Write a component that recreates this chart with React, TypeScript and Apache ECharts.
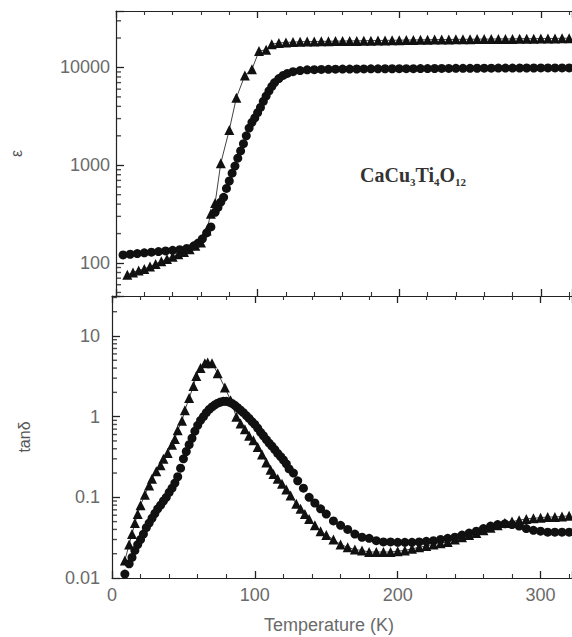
import React, { useEffect, useRef } from "react";
import * as echarts from "echarts";

// Temperature (K) vs dielectric constant, circles
const epsCircles: [number, number][] = [
  [5, 121], [10, 123], [15, 125], [20, 127], [25, 129], [30, 131], [35, 133], [40, 135], [45, 137], [50, 141],
  [55, 150], [58, 160], [61, 177], [64, 203], [67, 234],
  [70, 330], [72, 370], [74, 420], [76, 470], [78, 580], [80, 690], [82, 830], [84, 980], [86, 1180], [88, 1400],
  [90, 1660], [92, 2000], [94, 2400], [96, 2750], [98, 3050], [100, 3450], [102, 3900], [104, 4500], [106, 5100],
  [108, 5750], [110, 6400], [112, 7000], [115, 7700], [118, 8300], [121, 8700], [125, 9050], [130, 9300],
  [135, 9450], [140, 9500], [145, 9550], [150, 9580], [155, 9600], [160, 9620], [165, 9640], [170, 9650],
  [175, 9660], [180, 9680], [185, 9690], [190, 9700], [195, 9700], [200, 9710], [205, 9720], [210, 9730],
  [215, 9740], [220, 9750], [225, 9760], [230, 9770], [235, 9780], [240, 9790], [245, 9800], [250, 9810],
  [255, 9820], [260, 9830], [265, 9840], [270, 9850], [275, 9860], [280, 9860], [285, 9870], [290, 9880],
  [295, 9880], [300, 9890], [305, 9890], [310, 9900], [315, 9900], [320, 9900],
];

// Temperature (K) vs dielectric constant, triangles
const epsTriangles: [number, number][] = [
  [8, 76], [12, 80], [16, 84], [20, 87], [24, 92], [28, 98], [32, 104], [36, 110], [40, 116], [44, 123],
  [48, 130], [52, 138], [56, 150], [60, 162], [64, 215], [67, 320], [70, 410], [74, 1050], [80, 2300],
  [85, 4900], [91, 8300], [96, 9600], [101, 14700], [106, 15200], [110, 17300], [115, 17800], [120, 18000],
  [125, 18200], [130, 18300], [135, 18400], [140, 18400], [145, 18500], [150, 18500], [155, 18600],
  [160, 18600], [165, 18700], [170, 18700], [175, 18800], [180, 18800], [185, 18900], [190, 18900],
  [195, 19000], [200, 19000], [205, 19100], [210, 19100], [215, 19200], [220, 19200], [225, 19300],
  [230, 19300], [235, 19300], [240, 19400], [245, 19400], [250, 19400], [255, 19500], [260, 19500],
  [265, 19500], [270, 19600], [275, 19600], [280, 19600], [285, 19700], [290, 19700], [295, 19700],
  [300, 19800], [305, 19800], [310, 19800], [315, 19900], [320, 19900],
];

// Temperature (K) vs loss tangent, circles
const tanCircles: [number, number][] = [
  [9, 0.0112], [12, 0.015], [14, 0.018], [16, 0.022], [18, 0.026], [20, 0.03], [22, 0.035], [24, 0.042],
  [26, 0.048], [28, 0.055], [30, 0.063], [32, 0.072], [34, 0.08], [36, 0.09], [38, 0.1], [40, 0.115],
  [42, 0.13], [44, 0.15], [46, 0.18], [48, 0.23], [50, 0.3], [52, 0.37], [54, 0.45], [56, 0.54], [58, 0.66],
  [60, 0.78], [62, 0.9], [64, 1.0], [66, 1.12], [68, 1.23], [70, 1.32], [72, 1.4], [74, 1.47], [76, 1.52],
  [78, 1.55], [80, 1.55], [82, 1.52], [84, 1.46], [86, 1.38], [88, 1.29], [90, 1.2], [92, 1.12], [94, 1.03],
  [96, 0.95], [98, 0.87], [100, 0.8], [102, 0.72], [104, 0.64], [106, 0.58], [108, 0.52], [110, 0.47],
  [112, 0.43], [114, 0.39], [116, 0.35], [118, 0.32], [120, 0.29], [122, 0.26], [124, 0.225], [127, 0.2],
  [130, 0.16], [134, 0.13], [138, 0.1], [142, 0.085], [146, 0.072], [150, 0.062], [155, 0.051], [160, 0.045],
  [165, 0.04], [170, 0.035], [175, 0.032], [180, 0.031], [185, 0.029], [190, 0.028], [195, 0.028],
  [200, 0.0277], [205, 0.0277], [210, 0.0277], [215, 0.028], [220, 0.0285], [225, 0.029], [230, 0.03],
  [235, 0.031], [240, 0.032], [245, 0.034], [250, 0.036], [255, 0.038], [260, 0.041], [265, 0.044],
  [270, 0.046], [275, 0.047], [280, 0.046], [285, 0.044], [290, 0.041], [295, 0.039], [300, 0.038],
  [305, 0.037], [310, 0.037], [315, 0.037], [320, 0.037],
];

// Temperature (K) vs loss tangent, triangles
const tanTriangles: [number, number][] = [
  [9, 0.0165], [12, 0.026], [14, 0.035], [16, 0.048], [18, 0.062], [20, 0.08], [23, 0.108], [26, 0.14],
  [28, 0.17], [31, 0.21], [34, 0.25], [36, 0.3], [39, 0.355], [42, 0.45], [44, 0.53], [46, 0.68], [49, 0.89],
  [51, 1.2], [54, 1.7], [57, 2.4], [59, 3.2], [62, 4.0], [65, 4.6], [67, 4.7], [70, 4.6], [74, 3.45],
  [79, 2.3], [83, 1.6], [87, 1.0], [90, 0.82], [93, 0.7], [96, 0.58], [99, 0.51], [102, 0.42], [105, 0.34],
  [108, 0.27], [111, 0.22], [113, 0.195], [116, 0.17], [119, 0.147], [122, 0.125], [125, 0.105],
  [129, 0.083], [132, 0.072], [135, 0.062], [138, 0.054], [142, 0.045], [146, 0.038], [150, 0.034],
  [155, 0.03], [160, 0.026], [165, 0.024], [170, 0.0225], [175, 0.022], [180, 0.021], [185, 0.021],
  [190, 0.021], [195, 0.021], [200, 0.0215], [205, 0.022], [210, 0.023], [215, 0.024], [220, 0.025],
  [225, 0.026], [230, 0.027], [235, 0.028], [240, 0.03], [245, 0.032], [250, 0.034], [255, 0.036],
  [260, 0.039], [265, 0.042], [270, 0.045], [275, 0.048], [280, 0.05], [285, 0.052], [290, 0.054],
  [295, 0.055], [300, 0.056], [305, 0.057], [310, 0.057], [315, 0.058], [320, 0.059],
];

const xTicks = [0, 100, 200, 300];
const epsRange = [46, 37800];
const tanRange = [0.01, 31.3];
// minor tick positions on the log axes (2..9 within each decade)
const epsMinorTicks = [50, 60, 70, 80, 90, 200, 300, 400, 500, 600, 700, 800, 900, 2000, 3000, 4000, 5000, 6000, 7000, 8000, 9000, 20000, 30000];
const tanMinorTicks = [0.02, 0.03, 0.04, 0.05, 0.06, 0.07, 0.08, 0.09, 0.2, 0.3, 0.4, 0.5, 0.6, 0.7, 0.8, 0.9, 2, 3, 4, 5, 6, 7, 8, 9, 20, 30];

const FONT = "'Liberation Sans', Arial, Helvetica, sans-serif";
const LABEL_COLOR = "#6a6a6a";
const INK = "#111";

function decadeLabel(v: number): string {
  const l = Math.log10(v);
  const r = Math.round(l);
  if (Math.abs(l - r) > 1e-6) return "";
  return r < 0 ? Math.pow(10, r).toFixed(-r) : String(Math.round(Math.pow(10, r)));
}

export default function App() {
  const ref = useRef<HTMLDivElement>(null);
  useEffect(() => {
    if (!ref.current) return;
    const chart = echarts.init(ref.current, undefined, { renderer: "svg" });
    const axisLine = { show: true, lineStyle: { color: "#222", width: 1.2 } };
    const xBase = (gridIndex: number, position: string, labels: boolean) => ({
      type: "value",
      gridIndex,
      position,
      min: xTicks[0],
      max: 322,
      interval: xTicks[1] - xTicks[0],
      axisLine,
      axisTick: { show: true, inside: true, length: 7, lineStyle: { color: "#222", width: 1.3 } },
      minorTick: { show: true, splitNumber: 5, length: 4, lineStyle: { color: "#333", width: 1.1 } },
      splitLine: { show: false },
      axisLabel: labels
        ? { show: true, color: LABEL_COLOR, fontSize: 18, fontFamily: FONT, margin: 8, showMaxLabel: false }
        : { show: false },
    });
    const yBase = (gridIndex: number, range: number[], name: string, gap: number, margin: number) => ({
      type: "log",
      logBase: 10,
      gridIndex,
      min: range[0],
      max: range[1],
      axisLine,
      axisTick: { show: true, inside: true, length: 8, lineStyle: { color: "#222", width: 1.3 } },
      splitLine: { show: false },
      axisLabel: {
        color: LABEL_COLOR,
        fontSize: 18,
        fontFamily: FONT,
        margin,
        formatter: (v: number) => decadeLabel(v),
      },
      name,
      nameLocation: "middle",
      nameGap: gap,
      nameRotate: 90,
      nameTextStyle: { color: "#555", fontSize: 16, fontFamily: FONT },
    });
    const minorTickSeries = (xAxisIndex: number, yAxisIndex: number, values: number[]) => ({
      type: "scatter",
      xAxisIndex,
      yAxisIndex,
      silent: true,
      clip: false,
      data: values.map((v) => [0, v]),
      symbol: "rect",
      symbolSize: [5, 1.4],
      symbolOffset: [2.5, 0],
      itemStyle: { color: "#222" },
      z: 5,
    });
    const option: any = {
      animation: false,
      backgroundColor: "#fff",
      grid: [
        { left: 112, top: 11, width: 460, height: 285 },
        { left: 112, top: 296, width: 460, height: 282 },
      ],
      xAxis: [
        xBase(0, "bottom", false),
        xBase(0, "top", false),
        {
          ...xBase(1, "bottom", true),
          name: "Temperature (K)",
          nameLocation: "middle",
          nameGap: 38,
          nameTextStyle: { color: LABEL_COLOR, fontSize: 18, fontFamily: FONT, padding: [0, 26, 0, 0] },
        },
        xBase(1, "top", false),
      ],
      yAxis: [yBase(0, epsRange, "ε", 92, 6), yBase(1, tanRange, "tanδ", 80, 12)],
      graphic: [
        {
          type: "text",
          left: 360,
          top: 165,
          style: {
            text: "CaCu{s|3}Ti{s|4}O{s|12}",
            fill: "#333",
            font: "bold 20px 'Liberation Serif', 'Times New Roman', serif",
            rich: {
              s: {
                fontSize: 11,
                fontFamily: "'Liberation Serif', serif",
                fontWeight: "bold",
                fill: "#333",
                padding: [14, 0, 0, 0],
              },
            },
          },
        },
      ],
      series: [
        minorTickSeries(0, 0, epsMinorTicks),
        minorTickSeries(2, 1, tanMinorTicks),
        {
          type: "line",
          xAxisIndex: 0,
          yAxisIndex: 0,
          data: epsCircles,
          symbol: "circle",
          symbolSize: 9,
          showAllSymbol: true,
          lineStyle: { width: 0, opacity: 0 },
          itemStyle: { color: INK },
        },
        {
          type: "line",
          xAxisIndex: 0,
          yAxisIndex: 0,
          data: epsTriangles,
          symbol: "triangle",
          symbolSize: 10,
          showAllSymbol: true,
          lineStyle: { width: 1, color: "#444" },
          itemStyle: { color: INK },
        },
        {
          type: "line",
          xAxisIndex: 2,
          yAxisIndex: 1,
          data: tanCircles,
          symbol: "circle",
          symbolSize: 9,
          showAllSymbol: true,
          lineStyle: { width: 0, opacity: 0 },
          itemStyle: { color: INK },
        },
        {
          type: "line",
          xAxisIndex: 2,
          yAxisIndex: 1,
          data: tanTriangles,
          symbol: "triangle",
          symbolSize: 10,
          showAllSymbol: true,
          lineStyle: { width: 1, color: "#444" },
          itemStyle: { color: INK },
        },
      ],
    };
    chart.setOption(option);
    return () => chart.dispose();
  }, []);
  return <div ref={ref} style={{ width: 572, height: 637, position: "absolute", left: 0, top: 0 }} />;
}
